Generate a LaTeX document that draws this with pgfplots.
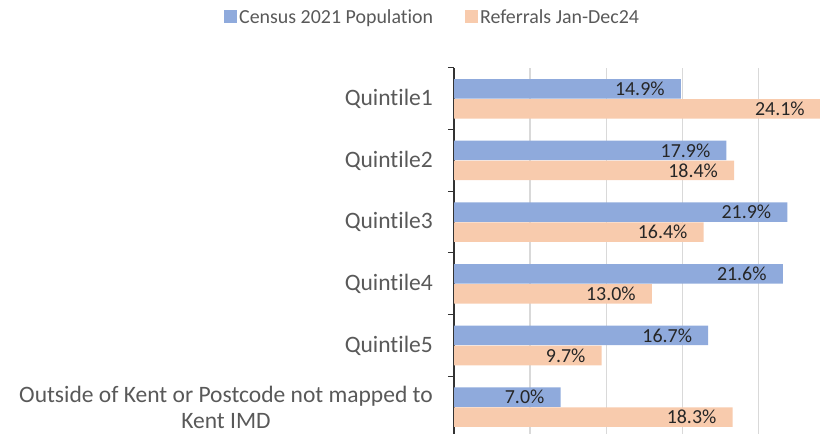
\documentclass[border=0pt]{standalone}
\usepackage{pgfplots}
\pgfplotsset{compat=1.18}
\usepackage{fontspec}
\setmainfont[Ligatures={NoCommon}]{Carlito}
\definecolor{census}{HTML}{8FAADC}
\definecolor{referral}{HTML}{F8CBAD}
\definecolor{labelgray}{HTML}{595959}
\definecolor{gridgray}{HTML}{D9D9D9}
\definecolor{valtext}{HTML}{262626}

\begin{document}
\begin{tikzpicture}
\path[use as bounding box] (0,0) rectangle (820bp,434bp);
\begin{axis}[
  at={(454bp,-4bp)}, anchor=south west,
  scale only axis, width=367.6bp, height=370bp,
  xbar, bar width=19.5bp,
  xmin=0, xmax=24.15,
  ymin=-0.5, ymax=5.5,
  ytick={0,1,2,3,4,5},
  yticklabels={{Outside of Kent or Postcode not mapped to\\Kent IMD},Quintile5,Quintile4,Quintile3,Quintile2,Quintile1},
  yticklabel style={align=center, inner sep=0pt, xshift=-21bp, text=labelgray,
    font=\fontsize{23.6}{26}\selectfont},
  minor ytick={-0.5,0.5,...,5.5},
  major tick length=0pt, minor tick length=6bp, tick align=outside,
  minor tick style={black!80, line width=1bp},
  xtick={5,10,15,20}, xticklabels={},
  xmajorgrids, major grid style={gridgray, line width=1.3bp},
  axis lines*=left,
  x axis line style={draw=none},
  y axis line style={black!80, line width=1.3bp},
  /pgf/number format/assume math mode=true,
  point meta=x,
  nodes near coords={\pgfmathprintnumber[fixed,fixed zerofill,precision=1,assume math mode=true]{\pgfplotspointmeta}\%},
  nodes near coords style={anchor=east, inner sep=0pt, xshift=-16bp, text=valtext,
    font=\fontsize{20}{24}\selectfont},
  legend columns=2,
  legend style={at={(-0.6257,1.138)}, anchor=west, draw=none, fill=none,
    inner sep=0pt, text=labelgray, font=\fontsize{20}{24}\selectfont,
    /tikz/every even column/.append style={column sep=30bp},
    nodes={inner sep=2bp}},
  legend image code/.code={\fill[#1] (0bp,-6.5bp) rectangle (13bp,6.5bp);},
  clip=false,
]
\addplot[fill=census, draw=none, bar shift=10bp] coordinates {
  (7.0,0) (16.7,1) (21.6,2) (21.9,3) (17.9,4) (14.9,5)};
\addplot[fill=referral, draw=none, bar shift=-10bp] coordinates {
  (18.3,0) (9.7,1) (13.0,2) (16.4,3) (18.4,4) (24.1,5)};
\legend{Census 2021 Population, Referrals Jan-Dec24}
\end{axis}
\end{tikzpicture}
\end{document}
